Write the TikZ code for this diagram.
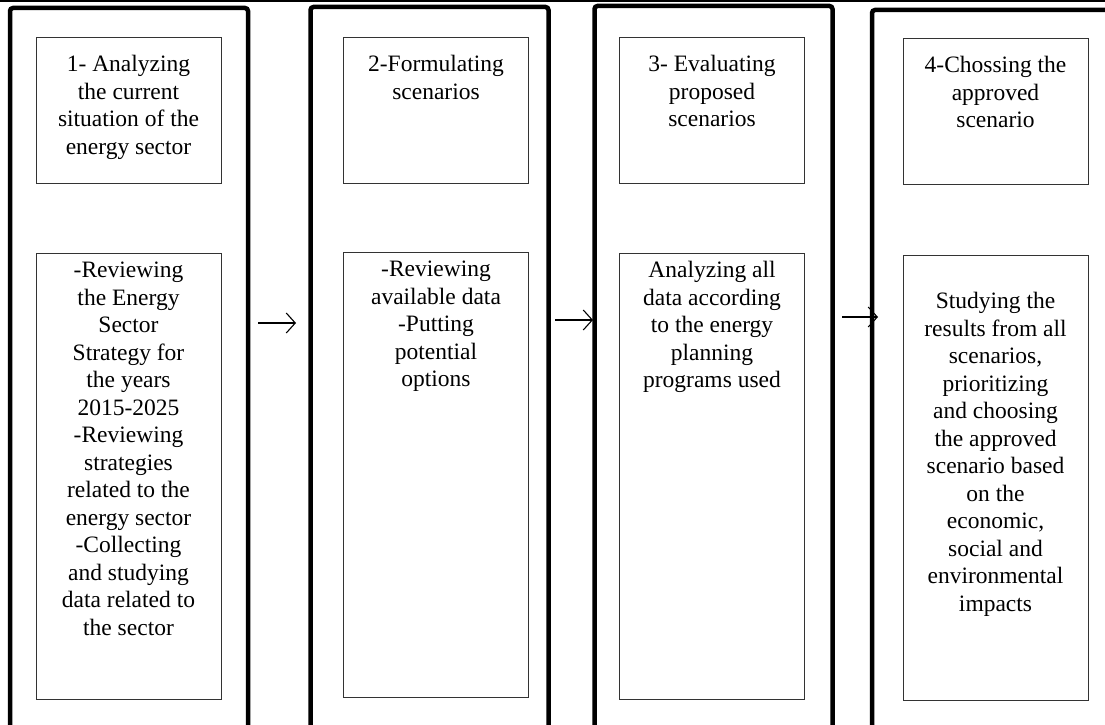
\documentclass[tikz,border=0pt]{standalone}
\usepackage{fontspec}
\setmainfont{Liberation Serif}
\usepackage{tikz}
\usetikzlibrary{positioning, arrows.meta}

\tikzset{
  frame/.style={draw, line width=4.5pt, rounded corners=3pt, minimum width=238pt,
    minimum height=800pt, outer sep=0pt, inner sep=0pt},
  stepbox/.style={draw, line width=0.9pt, draw=black!80, minimum width=185pt,
    outer sep=0pt, inner sep=0pt},
  txt/.style={align=center, inner sep=0pt, font=\fontsize{23.5}{27.5}\selectfont},
  flow/.style={line width=1.1pt, -{Straight Barb[length=9pt, width=20pt]}}
}

\begin{document}
\begin{tikzpicture}[x=1pt, y=-1pt]
      \useasboundingbox (0,0) rectangle (1105,725);
      \clip (0,0) rectangle (1105,725);

      % Top rule
      \draw[line width=2pt] (0,1.5) -- (1105,1.5);

      % Column frames
      \node[frame] (c1) at (129,408) {};
      \node[frame] (c2) at (429.5,407) {};
      \node[frame] (c3) at (713.5,406) {};
      \node[frame] (c4) at (991,410) {};

      % Title boxes
      \node[stepbox, minimum height=146pt] (t1) at (128.5,110) {};
      \node[stepbox, minimum height=146pt] (t2) at (436,110) {};
      \node[stepbox, minimum height=146pt] (t3) at (712,110) {};
      \node[stepbox, minimum height=146pt] (t4) at (995.5,111) {};

      \node[txt, below=18pt of t1.north] (t1txt) {1- Analyzing\\the current\\situation of the\\energy sector};
      \node[txt, below=18pt of t2.north] (t2txt) {2-Formulating\\scenarios};
      \node[txt, below=18pt of t3.north] (t3txt) {3- Evaluating\\proposed\\scenarios};
      \node[txt, below=18pt of t4.north] (t4txt) {4-Chossing the\\approved\\scenario};

      % Task boxes
      \node[stepbox, minimum height=446pt] (l1) at (128.5,476) {};
      \node[stepbox, minimum height=445pt] (l2) at (436,474.5) {};
      \node[stepbox, minimum height=446pt] (l3) at (712,476) {};
      \node[stepbox, minimum height=445pt] (l4) at (995.5,477.5) {};

      \node[txt, below=9pt of l1.north] (l1txt) {-Reviewing\\the Energy\\Sector\\Strategy for\\the years\\2015-2025\\-Reviewing\\strategies\\related to the\\energy sector\\-Collecting\\and studying\\data related to\\the sector};
      \node[txt, below=9pt of l2.north] (l2txt) {-Reviewing\\available data\\-Putting\\potential\\options};
      \node[txt, below=8pt of l3.north] (l3txt) {Analyzing all\\data according\\to the energy\\planning\\programs used};
      \node[txt, below=37pt of l4.north] (l4txt) {Studying the\\results from all\\scenarios,\\prioritizing\\and choosing\\the approved\\scenario based\\on the\\economic,\\social and\\environmental\\impacts};

      % Arrows between columns
      \coordinate (a1s) at (258,323);
      \coordinate (a1e) at (296,323);
      \coordinate (a2s) at (555,320);
      \coordinate (a2e) at (593,320);
      \coordinate (a3s) at (842,317);
      \coordinate (a3e) at (878,317);
      \draw[flow] (a1s) -- (a1e);
      \draw[flow] (a2s) -- (a2e);
      \draw[flow] (a3s) -- (a3e);
\end{tikzpicture}
\end{document}
